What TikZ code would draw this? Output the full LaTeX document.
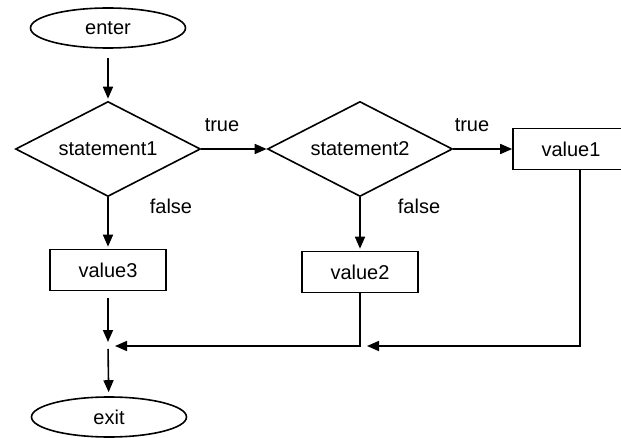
\documentclass[tikz,border=0pt]{standalone}
\usepackage{fontspec}
\setmainfont{Liberation Sans}
\usetikzlibrary{shapes.geometric,arrows.meta}
\begin{document}
\begin{tikzpicture}[x=1pt, y=-1pt, line width=1.6pt,
        every node/.style={font=\fontsize{20}{23}\selectfont},
        terminal/.style={draw, ellipse, minimum width=155pt, minimum height=40pt, inner sep=0pt},
        decision/.style={draw, diamond, shape aspect=2, minimum width=185pt, minimum height=95pt, inner sep=0pt},
        valuebox/.style={draw, rectangle, minimum width=116pt, minimum height=41pt, inner sep=0pt},
        flow/.style={-{Triangle[width=10pt,length=12pt]}}]
        \useasboundingbox (0,0) rectangle (621,438);

        % Start and end
        \node[terminal] (enter) at (108,28) {enter};
        \node[terminal] (exit) at (109,417) {exit};

        % Decisions
        \node[decision] (stmt1) at (108,149) {statement1};
        \node[decision] (stmt2) at (360,149) {statement2};

        % Values
        \node[valuebox] (value1) at (571,149) {value1};
        \node[valuebox] (value2) at (360,272) {value2};
        \node[valuebox] (value3) at (108,270) {value3};

        % Joins
        \coordinate (join1) at (108,346);
        \coordinate (join2) at (360,346);

        % Branch labels
        \node (true1) at (222,125) {true};
        \node (true2) at (472,125) {true};
        \node (false1) at (171,206) {false};
        \node (false2) at (419,206) {false};

        % Flow
        \draw[flow, shorten <=9pt, shorten >=2pt] (enter) -- (stmt1);
        \draw[flow] (stmt1) -- (stmt2);
        \draw[flow] (stmt2) -- (value1);
        \draw[flow, shorten >=2pt] (stmt1) -- (value3);
        \draw[flow, shorten >=2pt] (stmt2) -- (value2);
        \draw[flow, shorten <=7pt, shorten >=4pt] (value3) -- (join1);
        \draw[flow, shorten <=3pt, shorten >=4pt] (join1) -- (exit);
        \draw[flow, shorten >=7pt] (value2) |- (join1);
        \draw[flow, shorten >=7pt] ([xshift=9pt]value1.south) |- (join2);
    \end{tikzpicture}
\end{document}
